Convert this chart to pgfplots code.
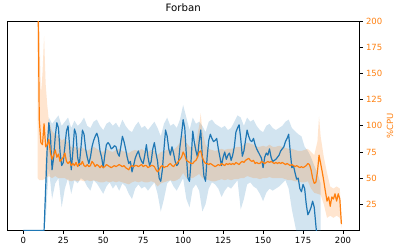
\documentclass[border=0pt]{standalone}
\usepackage{fontspec}
\setmainfont{DejaVu Sans}
\usepackage{pgfplots}
\pgfplotsset{compat=1.18}
\usepgfplotslibrary{fillbetween}
\definecolor{mblue}{HTML}{1F77B4}
\definecolor{morange}{HTML}{FF7F0E}
\begin{document}
\begin{tikzpicture}
\begin{axis}[name=main,
  scale only axis, width=351.7pt, height=209pt,
  xmin=-10, xmax=210, ymin=0, ymax=200,
  xtick={0,25,...,200}, ytick={25,50,...,200},
  xtick pos=bottom, ytick pos=right, yticklabel pos=right,
  tick align=outside, major tick length=3.5pt,
  tick style={black, line width=0.8pt},
  axis line style={line width=0.8pt},
  ticklabel style={font=\fontsize{8.5}{10}\selectfont},
  yticklabel style={text=morange},
  /pgf/number format/assume math mode=true,
  ylabel={\%CPU}, ylabel near ticks,
  ylabel style={text=morange, font=\fontsize{8.5}{10}\selectfont, inner sep=1pt},
  title={Forban},
  title style={font=\fontsize{10.2}{12}\selectfont, at={(0.5,1)}, anchor=base, yshift=4.3pt},
  every axis plot/.append style={line join=round},
]
% blue band
\addplot[name path=bu, draw=none, forget plot] coordinates {
(13,0)(14,70)(16,108)(18,102)(20,106)(22,110)(24,100)(26,104)(28,108)(30,98)(32,105)(34,100)(36,103)(38,108)(40,100)(42,98)(44,104)(46,106)(48,100)(50,96)(52,102)(54,104)(56,100)(58,103)(60,98)(62,106)(64,100)(66,96)(68,94)(70,100)(72,104)(74,98)(76,100)(78,96)(80,100)(82,104)(84,98)(86,90)(88,102)(90,108)(92,100)(94,102)(96,98)(98,106)(100,120)(102,108)(104,96)(106,108)(108,102)(110,104)(112,100)(114,94)(116,104)(118,106)(120,102)(122,100)(124,98)(126,100)(128,96)(130,98)(132,104)(134,110)(136,108)(138,100)(140,108)(142,104)(144,106)(146,100)(148,96)(150,94)(152,100)(154,102)(156,98)(158,96)(160,98)(162,100)(164,104)(166,106)(168,98)(170,95)(172,92)(174,90)(176,80)(178,76)(180,70)(182,62)(184,55)(186,45)};
\addplot[name path=bl, draw=none, forget plot] coordinates {
(13,0)(14,10)(16,60)(18,30)(20,45)(22,50)(24,22)(26,40)(28,50)(30,35)(32,48)(34,45)(36,50)(38,48)(40,42)(42,38)(44,48)(46,45)(48,40)(50,35)(52,42)(54,46)(56,40)(58,44)(60,38)(62,45)(64,42)(66,35)(68,30)(70,40)(72,44)(74,40)(76,42)(78,38)(80,42)(82,46)(84,35)(86,18)(88,30)(90,45)(92,48)(94,42)(96,38)(98,44)(100,50)(102,30)(104,22)(106,40)(108,44)(110,38)(112,18)(114,25)(116,40)(118,46)(120,44)(122,40)(124,32)(126,38)(128,42)(130,40)(132,44)(134,48)(136,20)(138,30)(140,44)(142,46)(144,42)(146,40)(148,35)(150,28)(152,36)(154,40)(156,38)(158,40)(160,42)(162,45)(164,48)(166,40)(168,20)(170,5)(172,-10)(174,-20)(176,-30)(178,-40)(180,-40)(182,-50)(184,-50)(186,-60)};
\addplot[mblue, fill opacity=0.2, draw=none, forget plot] fill between[of=bu and bl];
% blue mean
\addplot[mblue, line width=1.2pt, forget plot] coordinates {
(0,0)(13,0)(14,40)(15,80)(16,103)(17,90)(18,58)(19,70)(20,90)(21,103)(22,98)(23,75)(24,62)(25,65)(26,80)(27,95)(28,100)(29,80)(30,58)(31,75)(32,97)(33,92)(34,70)(35,62)(36,78)(37,96)(38,92)(39,78)(40,70)(41,64)(42,70)(43,80)(44,86)(45,90)(46,93)(47,88)(48,76)(49,70)(50,60)(51,72)(52,82)(53,84)(54,82)(55,78)(56,79)(57,81)(58,80)(59,74)(60,71)(61,80)(62,90)(63,85)(64,78)(65,70)(66,64)(67,66)(68,56)(69,62)(70,69)(71,73)(72,76)(73,70)(74,66)(75,64)(76,72)(77,82)(78,70)(79,62)(80,66)(81,78)(82,84)(83,74)(84,66)(85,50)(86,47)(87,58)(88,78)(89,96)(90,90)(91,78)(92,72)(93,80)(94,74)(95,66)(96,62)(97,64)(98,80)(99,92)(100,106)(101,98)(102,72)(103,50)(104,47)(105,68)(106,95)(107,84)(108,76)(109,70)(110,85)(111,96)(112,70)(113,52)(114,47)(115,70)(116,86)(117,92)(118,88)(119,85)(120,86)(121,88)(122,78)(123,70)(124,62)(125,70)(126,75)(127,68)(128,72)(129,74)(130,67)(131,72)(132,80)(133,94)(134,98)(135,101)(136,88)(137,71)(138,76)(139,86)(140,96)(141,90)(142,86)(143,85)(144,88)(145,82)(146,78)(147,75)(148,72)(149,69)(150,60)(151,70)(152,74)(153,72)(154,78)(155,70)(156,66)(157,67)(158,68)(159,70)(160,72)(161,76)(162,78)(163,80)(164,85)(165,88)(166,92)(167,75)(168,60)(169,62)(170,55)(171,49)(172,50)(173,40)(174,37)(175,44)(176,40)(177,25)(178,15)(179,18)(180,22)(181,28)(182,22)(183,5)(184,-10)(185,-20)(186,-30)};
% orange band
\addplot[name path=ou, draw=none, forget plot] coordinates {
(9,300)(10,200)(11,130)(12,150)(13,186)(14,140)(15,120)(16,105)(18,95)(20,92)(22,90)(24,86)(26,88)(28,84)(30,80)(32,80)(34,78)(36,80)(38,78)(40,76)(42,78)(44,80)(46,78)(48,76)(50,75)(52,78)(54,76)(56,75)(58,77)(60,78)(62,76)(64,75)(66,74)(68,76)(70,77)(72,76)(74,78)(76,76)(78,75)(80,77)(82,76)(84,72)(86,75)(88,76)(90,77)(92,78)(94,77)(96,80)(98,84)(100,92)(102,84)(104,80)(106,80)(108,84)(110,100)(111,112)(112,95)(114,82)(116,78)(118,77)(120,76)(122,77)(124,78)(126,77)(128,78)(130,78)(132,79)(134,80)(136,80)(138,82)(140,84)(142,83)(144,82)(146,80)(148,80)(150,81)(152,80)(154,82)(156,80)(158,80)(160,81)(162,80)(164,79)(166,78)(168,78)(170,77)(172,76)(174,76)(176,77)(178,78)(180,75)(182,72)(184,85)(185,109)(186,90)(188,70)(190,55)(192,42)(194,40)(196,42)(198,40)(199,10)};
\addplot[name path=ol, draw=none, forget plot] coordinates {
(9,50)(10,48)(12,48)(14,50)(16,52)(18,50)(20,52)(22,50)(24,50)(26,50)(28,48)(30,47)(32,48)(34,47)(36,48)(38,47)(40,48)(42,47)(44,48)(46,47)(48,46)(50,46)(52,47)(54,46)(56,47)(58,46)(60,47)(62,46)(64,45)(66,44)(68,46)(70,47)(72,46)(74,47)(76,46)(78,46)(80,47)(82,46)(84,42)(86,45)(88,46)(90,47)(92,48)(94,47)(96,48)(98,50)(100,55)(102,50)(104,50)(106,50)(108,52)(110,54)(112,50)(114,49)(116,48)(118,47)(120,47)(122,48)(124,49)(126,48)(128,49)(130,48)(132,49)(134,49)(136,50)(138,50)(140,52)(142,51)(144,50)(146,50)(148,49)(150,50)(152,50)(154,51)(156,50)(158,50)(160,50)(162,50)(164,49)(166,48)(168,48)(170,47)(172,47)(174,46)(176,46)(178,47)(180,40)(182,36)(184,35)(186,34)(188,25)(190,12)(192,14)(194,12)(196,14)(198,12)(199,2)};
\addplot[morange, fill opacity=0.2, draw=none, forget plot] fill between[of=ou and ol];
% orange mean
\addplot[morange, line width=1.2pt, forget plot] coordinates {
(9,260)(10,106)(11,84)(12,82)(13,102)(14,80)(15,82)(16,87)(17,74)(18,68)(19,72)(20,77)(21,70)(22,73)(23,66)(24,68)(25,70)(26,74)(27,66)(28,64)(29,66)(30,62)(31,64)(32,62)(33,65)(34,61)(35,64)(36,63)(37,66)(38,62)(39,61)(40,63)(41,61)(42,62)(43,66)(44,64)(45,61)(46,63)(47,62)(48,60)(49,62)(50,60)(51,61)(52,63)(53,62)(54,61)(55,60)(56,61)(57,62)(58,61)(59,62)(60,63)(61,62)(62,61)(63,62)(64,60)(65,59)(66,58)(67,61)(68,62)(69,61)(70,62)(71,62)(72,61)(73,62)(74,63)(75,61)(76,62)(77,62)(78,60)(79,61)(80,62)(81,62)(82,61)(83,58)(84,56)(85,58)(86,61)(87,62)(88,60)(89,61)(90,61)(91,63)(92,64)(93,62)(94,61)(95,63)(96,64)(97,66)(98,68)(99,70)(100,75)(101,72)(102,67)(103,66)(104,65)(105,64)(106,64)(107,66)(108,67)(109,70)(110,75)(111,76)(112,70)(113,66)(114,64)(115,64)(116,63)(117,64)(118,63)(119,62)(120,61)(121,62)(122,63)(123,62)(124,64)(125,63)(126,62)(127,64)(128,63)(129,64)(130,63)(131,64)(132,63)(133,65)(134,64)(135,63)(136,65)(137,66)(138,65)(139,67)(140,68)(141,69)(142,67)(143,66)(144,67)(145,64)(146,65)(147,64)(148,64)(149,66)(150,65)(151,64)(152,65)(153,66)(154,65)(155,66)(156,65)(157,64)(158,65)(159,64)(160,65)(161,64)(162,65)(163,64)(164,63)(165,64)(166,63)(167,62)(168,63)(169,62)(170,61)(171,62)(172,61)(173,60)(174,61)(175,60)(176,61)(177,62)(178,64)(179,63)(180,58)(181,50)(182,45)(183,46)(184,56)(185,72)(186,64)(187,56)(188,47)(189,37)(190,28)(191,32)(192,23)(193,32)(194,30)(195,35)(196,28)(197,35)(198,30)(199,6)};
\end{axis}
\path ([shift={(-7.3pt,-15pt)}]main.south west) ([shift={(36pt,20pt)}]main.north east);
\end{tikzpicture}
\end{document}
